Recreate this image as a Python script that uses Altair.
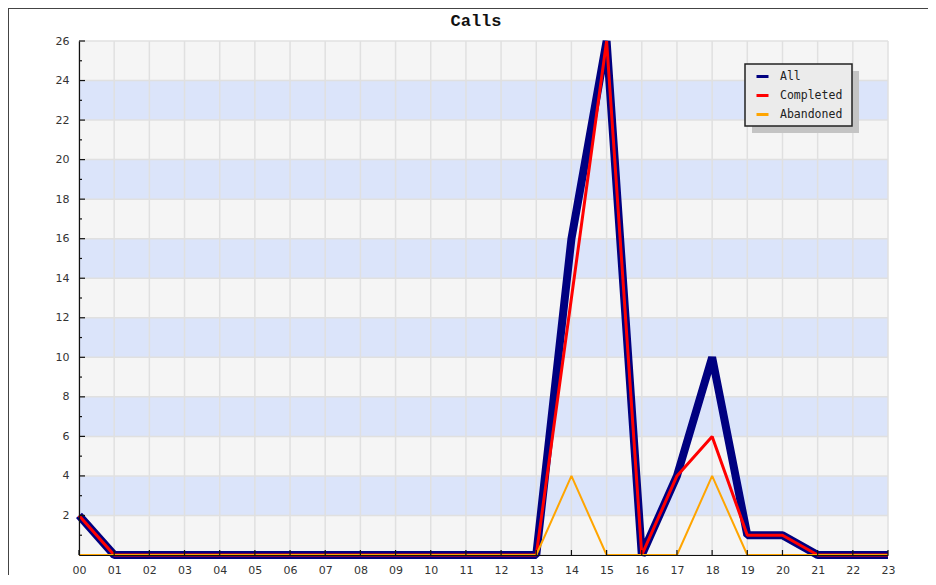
import altair as alt
import pandas as pd

# ---- data ----
title_text = "Calls"
hours = ["00", "01", "02", "03", "04", "05", "06", "07", "08", "09", "10", "11",
         "12", "13", "14", "15", "16", "17", "18", "19", "20", "21", "22", "23"]
all_calls = [2, 0, 0, 0, 0, 0, 0, 0, 0, 0, 0, 0, 0, 0, 16, 26, 0, 4, 10, 1, 1, 0, 0, 0]
completed = [2, 0, 0, 0, 0, 0, 0, 0, 0, 0, 0, 0, 0, 0, 13, 26, 0, 4, 6, 1, 1, 0, 0, 0]
abandoned = [0, 0, 0, 0, 0, 0, 0, 0, 0, 0, 0, 0, 0, 0, 4, 0, 0, 0, 4, 0, 0, 0, 0, 0]
series_names = ["All", "Completed", "Abandoned"]
y_labels = [2, 4, 6, 8, 10, 12, 14, 16, 18, 20, 22, 24, 26]
y_minor = [1, 3, 5, 7, 9, 11, 13, 15, 17, 19, 21, 23, 25]
y_max = 26

W, H = 809, 514

rows = []
for name, vals in zip(series_names, [all_calls, completed, abandoned]):
    for h, v in zip(hours, vals):
        rows.append({"hour": h, "series": name, "value": v})
lines_df = pd.DataFrame(rows)

band_df = pd.DataFrame({"start": [0] + y_labels[:-1], "end": y_labels})
grid_y_df = pd.DataFrame({"v": [0] + y_labels})
hours_df = pd.DataFrame({"hour": hours})
major_df = pd.DataFrame({"v": y_labels})
minor_df = pd.DataFrame({"v": y_minor})
dummy = pd.DataFrame({"a": [0]})
title_df = pd.DataFrame({"t": [title_text]})

xscale = alt.Scale(type="point", domain=hours, padding=0)
yscale = alt.Scale(domain=[0, y_max], nice=False, zero=True)
xaxis = alt.Axis(title=None, grid=False, ticks=False, labelAngle=0, labelPadding=9,
                 labelFont="DejaVu Sans", labelFontSize=11, labelColor="#333",
                 domainColor="#111", domainWidth=1.2, zindex=1)
yaxis = alt.Axis(title=None, grid=False, ticks=False, values=y_labels, labelPadding=10,
                 labelFont="DejaVu Sans", labelFontSize=11, labelColor="#333",
                 domainColor="#111", domainWidth=1.2, zindex=1)


def X(field="hour"):
    return alt.X(f"{field}:O", scale=xscale, axis=xaxis)


def Y(field):
    return alt.Y(f"{field}:Q", scale=yscale, axis=yaxis)


# legend box (plot-area pixel coordinates)
LX, LY, LW, LH = 666, 23, 107, 62

color_scale = alt.Scale(domain=series_names, range=["#000080", "#ff0000", "#ffa500"])
legend = alt.Legend(orient="none", legendX=LX + 10, legendY=LY + 5, title=None,
                    symbolType="stroke", symbolStrokeWidth=3, symbolSize=144,
                    labelFont="DejaVu Sans Mono", labelFontSize=11.5, labelColor="#222",
                    padding=0, rowPadding=5, labelOffset=10)

frame = alt.Chart(dummy).mark_rect(fill=None, stroke="#444", strokeWidth=2).encode(
    x=alt.value(-71), x2=alt.value(W + 60), y=alt.value(-33), y2=alt.value(H + 60))

title = alt.Chart(title_df).mark_text(
    font="Liberation Mono", fontSize=17, fontWeight="bold", color="#111",
    align="center", baseline="alphabetic").encode(
    text="t:N", x=alt.value(397), y=alt.value(-15))

bands = alt.Chart(band_df).mark_rect().encode(
    y=Y("start"), y2="end", x=alt.value(0), x2=alt.value(W),
    fill=alt.condition("datum.start % 4 == 0", alt.value("#f5f5f5"), alt.value("#dbe4fa")))

grid_x = alt.Chart(hours_df).mark_rule(color="#e0e0e0", strokeWidth=1.5).encode(
    x=X(), y=alt.value(0), y2=alt.value(H))
grid_y = alt.Chart(grid_y_df).mark_rule(color="#e0e0e0", strokeWidth=1.5).encode(
    y=Y("v"), x=alt.value(0), x2=alt.value(W))

widths = {"All": 8, "Completed": 3, "Abandoned": 2}
line_layers = []
for name in series_names:
    line_layers.append(
        alt.Chart(lines_df).transform_filter(alt.datum.series == name)
        .mark_line(strokeWidth=widths[name], strokeJoin="bevel", clip=False)
        .encode(x=X(), y=Y("value"),
                color=alt.Color("series:N", scale=color_scale, legend=legend))
    )

ticks_major = alt.Chart(major_df).mark_rule(color="#111", strokeWidth=1.2).encode(
    y=Y("v"), x=alt.value(0), x2=alt.value(6))
ticks_minor = alt.Chart(minor_df).mark_rule(color="#111", strokeWidth=1.2).encode(
    y=Y("v"), x=alt.value(0), x2=alt.value(3))
ticks_x = alt.Chart(hours_df).mark_rule(color="#111", strokeWidth=1.2).encode(
    x=X(), y=alt.value(H), y2=alt.value(H - 5))

shadow = alt.Chart(dummy).mark_rect(fill="#c4c4c4").encode(
    x=alt.value(LX + 7), x2=alt.value(LX + 7 + LW),
    y=alt.value(LY + 7), y2=alt.value(LY + 7 + LH))
legend_box = alt.Chart(dummy).mark_rect(fill="#ebebeb", stroke="#222", strokeWidth=1.5).encode(
    x=alt.value(LX), x2=alt.value(LX + LW),
    y=alt.value(LY), y2=alt.value(LY + LH))

chart = alt.layer(
    frame, title, bands, grid_x, grid_y, *line_layers, ticks_major, ticks_minor, ticks_x,
    shadow, legend_box
).properties(
    width=W, height=H,
    autosize=alt.AutoSizeParams(type="none"),
    padding={"left": 71, "top": 33, "right": 40, "bottom": 20},
    background="white",
).configure_view(stroke=None)

chart.save("out.html", embed_options={"renderer": "svg", "actions": False})
